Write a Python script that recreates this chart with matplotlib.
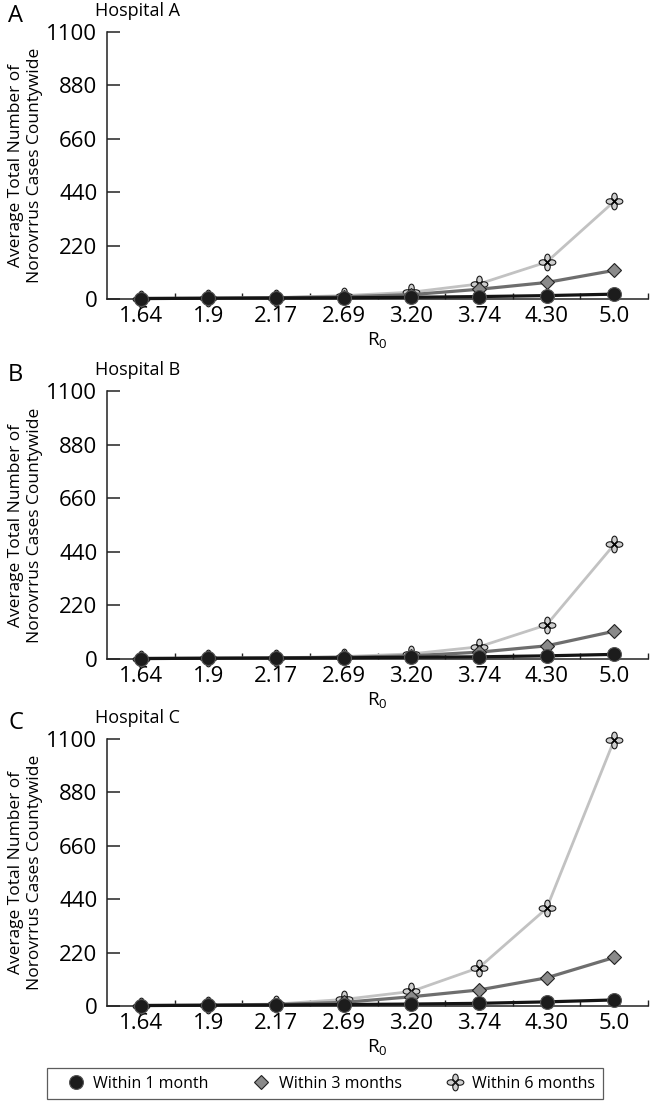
import matplotlib
matplotlib.use('Agg')
import matplotlib.pyplot as plt
from matplotlib.lines import Line2D
from matplotlib.path import Path
from matplotlib.transforms import Affine2D
from matplotlib.ticker import FixedLocator

plt.rcParams['font.family'] = ['Open Sans', 'DejaVu Sans']

r0_labels = ['1.64', '1.9', '2.17', '2.69', '3.20', '3.74', '4.30', '5.0']
hospitals = ['Hospital A', 'Hospital B', 'Hospital C']
panel_letters = ['A', 'B', 'C']
series_names = ['Within 1 month', 'Within 3 months', 'Within 6 months']

# average total cases, one list per hospital and horizon
hosp_a_1m = [2, 3, 4, 5, 7, 10, 14, 20]
hosp_a_3m = [2, 3, 5, 9, 18, 40, 68, 118]
hosp_a_6m = [2, 3, 6, 14, 28, 62, 152, 402]

hosp_b_1m = [2, 3, 4, 5, 7, 9, 13, 19]
hosp_b_3m = [2, 3, 4, 7, 13, 28, 54, 114]
hosp_b_6m = [2, 3, 5, 10, 21, 50, 140, 470]

hosp_c_1m = [2, 3, 4, 6, 8, 11, 17, 25]
hosp_c_3m = [2, 3, 6, 15, 38, 66, 116, 200]
hosp_c_6m = [2, 4, 8, 27, 60, 158, 402, 1096]

panel_data = [
    (hosp_a_1m, hosp_a_3m, hosp_a_6m),
    (hosp_b_1m, hosp_b_3m, hosp_b_6m),
    (hosp_c_1m, hosp_c_3m, hosp_c_6m),
]


def flower_marker():
    petals = []
    for dx, dy, sx, sy in [(0, 0.27, 0.17, 0.25), (0, -0.27, 0.17, 0.25),
                           (0.27, 0, 0.25, 0.17), (-0.27, 0, 0.25, 0.17)]:
        tr = Affine2D().scale(sx, sy).translate(dx, dy)
        petals.append(tr.transform_path(Path.unit_circle()))
    return Path.make_compound_path(*petals)


FLOWER = flower_marker()
styles = [
    dict(color='#141414', lw=2.3, marker='o', ms=10, mfc='#1c1c1c', mec='#555555', mew=0.8, zorder=5),
    dict(color='#6e6e6e', lw=2.3, marker='D', ms=7.5, mfc='#8a8a8a', mec='#222222', mew=0.8, zorder=4),
    dict(color='#c2c2c2', lw=2.0, marker=FLOWER, ms=12, mfc='#cfcfcf', mec='#1a1a1a', mew=0.8, zorder=3),
]

W, H = 650, 1101
fig = plt.figure(figsize=(W / 100, H / 100), dpi=100)
# (top, bottom) of each panel in pixels
panel_px = [(32, 299), (391, 659), (739, 1006)]
left_px, right_px = 107, 648

x = list(range(len(r0_labels)))
for i, (top, bottom) in enumerate(panel_px):
    ax = fig.add_axes([left_px / W, 1 - bottom / H, (right_px - left_px) / W, (bottom - top) / H])
    for vals, st in zip(panel_data[i], styles):
        ax.plot(x, vals, clip_on=False, **st)
        if st['marker'] is FLOWER:
            ax.plot(x, vals, ls='none', marker='x', ms=3, mew=0.8, color='black', clip_on=False, zorder=3.5)
    ax.set_xlim(-0.5, 7.5)
    ax.set_ylim(0, 1100)
    ax.set_yticks(range(0, 1101, 220))
    ax.set_xticks(x)
    ax.set_xticklabels(r0_labels)
    ax.xaxis.set_minor_locator(FixedLocator([k + 0.5 for k in range(len(r0_labels))]))
    ax.tick_params(axis='y', direction='in', length=9, width=1.1, color='#222222', pad=7, labelsize=16)
    ax.tick_params(axis='x', which='major', length=0, pad=5, labelsize=16)
    ax.tick_params(axis='x', which='minor', direction='in', length=4, width=1, color='#222222')
    for side in ('top', 'right'):
        ax.spines[side].set_visible(False)
    for side in ('left', 'bottom'):
        ax.spines[side].set_linewidth(1.1)
        ax.spines[side].set_color('#222222')
    ax.set_xlabel(r'$\mathregular{R_0}$', fontsize=13.5, labelpad=2)
    ax.set_ylabel('Average Total Number of\nNorovrrus Cases Countywide', fontsize=12.5, linespacing=1.3)
    ax.yaxis.set_label_coords(-0.118, 0.5)
    fig.text(8 / W, 1 - (top - 10) / H, panel_letters[i], fontsize=17, ha='left', va='baseline')
    fig.text(95 / W, 1 - (top - 16) / H, hospitals[i], fontsize=13, ha='left', va='baseline')

handles = [
    Line2D([], [], ls='none', marker=st['marker'], ms=st['ms'], mfc=st['mfc'], mec=st['mec'], mew=st['mew'])
    for st in styles
]
leg = fig.legend(handles, series_names, loc='center', bbox_to_anchor=(0.5, 1 - 1083.5 / H), ncol=3,
                 fontsize=11.5, frameon=True, fancybox=False, edgecolor='#333333', borderpad=0.5,
                 handlelength=2.6, handletextpad=-0.2, columnspacing=2.0)
leg.get_frame().set_linewidth(0.9)

fig.savefig('out.png', dpi=100)
